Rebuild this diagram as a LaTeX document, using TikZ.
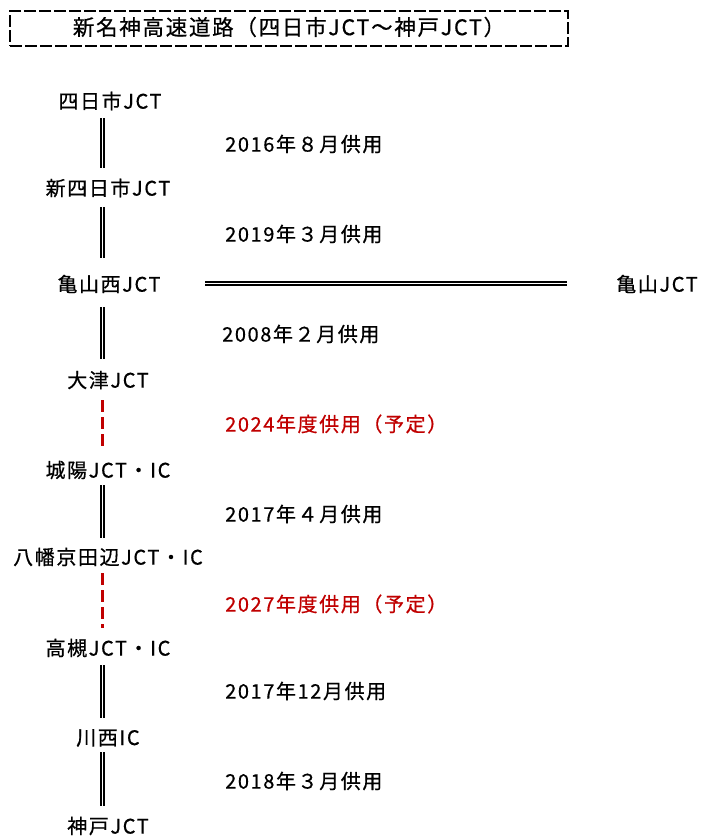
\documentclass[tikz,border=0pt]{standalone}
\usepackage{fontspec}
\usetikzlibrary{calc}
\newfontfamily\jp[LetterSpace=8,FakeBold=0.6]{Noto Sans CJK JP}
\definecolor{plred}{RGB}{192,0,0}
\begin{document}
\begin{tikzpicture}[x=1pt,y=-1pt,
  lbl/.style={inner sep=0pt,font=\jp\fontsize{20}{24}\selectfont},
  date/.style={lbl,anchor=west},
  plan/.style={date,text=plred},
  dbl/.style={line width=1.5pt,double=white,double distance=1.6pt,draw=black},
  red dash/.style={draw=plred,line width=2.4pt,dash pattern=on 12pt off 5pt},
  title box/.style={draw=black,line width=1.4pt,dash pattern=on 12pt off 3pt,minimum width=558pt,minimum height=35pt,inner sep=0pt}]
\useasboundingbox (0,0) rectangle (705,836);
% title
\node[title box] (tbox) at (289,28.5) {};
\node[lbl,font=\jp\fontsize{21.5}{26}\selectfont] (title) at (289,27) {新名神高速道路（四日市JCT～神戸JCT）};
% stations
\node[lbl] (s1) at (110,101) {四日市JCT};
\node[lbl] (s2) at (108,188) {新四日市JCT};
\node[lbl] (s3) at (109,284) {亀山西JCT};
\node[lbl] (s4) at (108,380) {大津JCT};
\node[lbl] (s5) at (108,470) {城陽JCT・IC};
\node[lbl] (s6) at (108,557) {八幡京田辺JCT・IC};
\node[lbl] (s7) at (108,648) {高槻JCT・IC};
\node[lbl] (s8) at (108,738) {川西IC};
\node[lbl] (s9) at (108,826) {神戸JCT};
\node[lbl] (kam) at (657,284) {亀山JCT};
% dates
\node[date] (d1) at (225,144) {2016年８月供用};
\node[date] (d2) at (225,234) {2019年３月供用};
\node[date] (d3) at (222,334) {2008年２月供用};
\node[plan] (d4) at (225,424) {2024年度供用（予定）};
\node[date] (d5) at (225,514) {2017年４月供用};
\node[plan] (d6) at (225,604) {2027年度供用（予定）};
\node[date] (d7) at (225,691) {2017年12月供用};
\node[date] (d8) at (225,781) {2018年３月供用};
% spine
\coordinate (sp) at (102.5,0);
\draw[dbl] ($(s1.center -| sp)+(0,17)$) -- ($(s2.center -| sp)+(0,-20)$);
\draw[dbl] ($(s2.center -| sp)+(0,19)$) -- ($(s3.center -| sp)+(0,-26)$);
\draw[dbl] ($(s3.center -| sp)+(0,23)$) -- ($(s4.center -| sp)+(0,-21)$);
\draw[red dash] ($(s4.center -| sp)+(0,20)$) -- ($(s5.center -| sp)+(0,-20)$);
\draw[dbl] ($(s5.center -| sp)+(0,15)$) -- ($(s6.center -| sp)+(0,-19)$);
\draw[red dash] ($(s6.center -| sp)+(0,16)$) -- ($(s7.center -| sp)+(0,-20)$);
\draw[dbl] ($(s7.center -| sp)+(0,17)$) -- ($(s8.center -| sp)+(0,-20)$);
\draw[dbl] ($(s8.center -| sp)+(0,14)$) -- ($(s9.center -| sp)+(0,-20)$);
\draw[dbl] ($(s3.center)+(96,-0.7)$) -- ($(kam.center)+(-90,-0.7)$);
\end{tikzpicture}
\end{document}
